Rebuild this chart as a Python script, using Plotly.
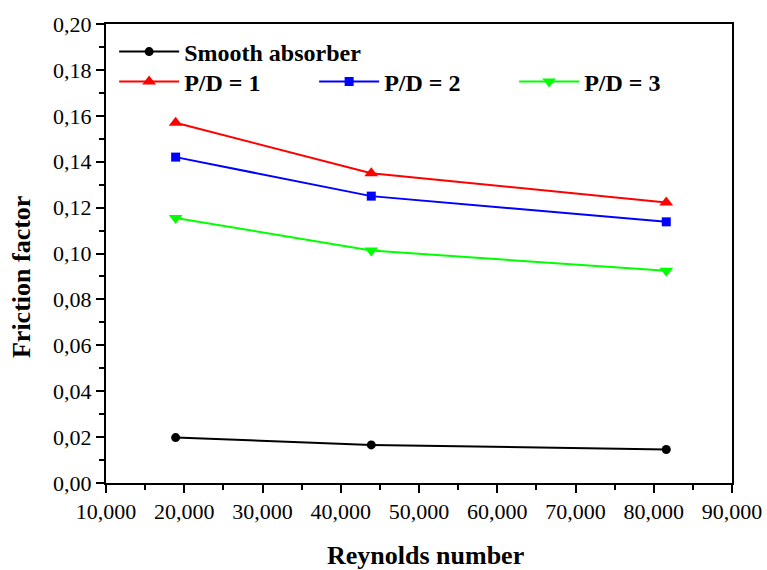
import plotly.graph_objects as go

reynolds = [18900, 43900, 81600]
smooth = [0.0198, 0.0166, 0.0146]
pd1 = [0.157, 0.135, 0.1222]
pd2 = [0.142, 0.125, 0.1138]
pd3 = [0.1155, 0.1013, 0.0925]

x_ticks = [10000, 20000, 30000, 40000, 50000, 60000, 70000, 80000, 90000]
x_labels = ["10,000", "20,000", "30,000", "40,000", "50,000", "60,000", "70,000", "80,000", "90,000"]
y_ticks = [0.00, 0.02, 0.04, 0.06, 0.08, 0.10, 0.12, 0.14, 0.16, 0.18, 0.20]
y_labels = ["0,00", "0,02", "0,04", "0,06", "0,08", "0,10", "0,12", "0,14", "0,16", "0,18", "0,20"]

FONT = "Liberation Serif"

fig = go.Figure()
fig.add_trace(go.Scatter(x=reynolds, y=smooth, name="<b>Smooth absorber</b>", mode="lines+markers",
                         line=dict(color="black", width=2),
                         marker=dict(symbol="circle", size=9, color="black"),
                         legend="legend", showlegend=True))
fig.add_trace(go.Scatter(x=reynolds, y=pd1, name="<b>P/D = 1</b>", mode="lines+markers",
                         line=dict(color="#ff0000", width=2),
                         marker=dict(symbol="triangle-up", size=12, color="#ff0000"),
                         legend="legend2", showlegend=True))
fig.add_trace(go.Scatter(x=reynolds, y=pd2, name="<b>P/D = 2</b>", mode="lines+markers",
                         line=dict(color="#0000ff", width=2),
                         marker=dict(symbol="square", size=9, color="#0000ff"),
                         legend="legend2", showlegend=True))
fig.add_trace(go.Scatter(x=reynolds, y=pd3, name="<b>P/D = 3</b>", mode="lines+markers",
                         line=dict(color="#00ff00", width=2),
                         marker=dict(symbol="triangle-down", size=12, color="#00ff00"),
                         legend="legend2", showlegend=True))

axis_common = dict(showline=True, linecolor="black", linewidth=2, mirror=True,
                   ticks="outside", ticklen=8, tickwidth=2, tickcolor="black",
                   showgrid=False, zeroline=False, automargin=False,
                   tickfont=dict(family=FONT, size=22, color="black"))

fig.update_xaxes(range=[10000, 90000], tickvals=x_ticks, ticktext=x_labels,
                 minor=dict(ticks="outside", ticklen=5, tickwidth=2, tickcolor="black", dtick=5000, tick0=0),
                 **axis_common)
fig.update_yaxes(range=[0, 0.20], tickvals=y_ticks, ticktext=y_labels,
                 minor=dict(ticks="outside", ticklen=5, tickwidth=2, tickcolor="black", dtick=0.01, tick0=0),
                 **axis_common)

title_font = dict(family=FONT, size=26, color="black")
fig.add_annotation(text="<b>Reynolds number</b>", xref="paper", yref="paper",
                   x=0.511, y=-0.159, xanchor="center", yanchor="middle",
                   showarrow=False, font=title_font)
fig.add_annotation(text="<b>Friction factor</b>", xref="paper", yref="paper",
                   x=-0.134, y=0.449, xanchor="center", yanchor="middle", textangle=-90,
                   showarrow=False, font=title_font)

legend_font = dict(family=FONT, size=24, color="black")
fig.update_layout(
    width=767, height=570,
    margin=dict(l=106, r=35, t=24, b=87, autoexpand=False),
    paper_bgcolor="white", plot_bgcolor="white",
    font=dict(family=FONT, color="black"),
    showlegend=True,
    legend=dict(x=0.013, y=0.939, xanchor="left", yanchor="middle", bgcolor="rgba(0,0,0,0)",
                font=legend_font, itemwidth=60, orientation="h"),
    legend2=dict(x=0.013, y=0.8736, xanchor="left", yanchor="middle", orientation="h",
                 bgcolor="rgba(0,0,0,0)", font=legend_font, itemwidth=60, entrywidth=125,
                 entrywidthmode="pixels"),
)

fig.write_html("out.html")
